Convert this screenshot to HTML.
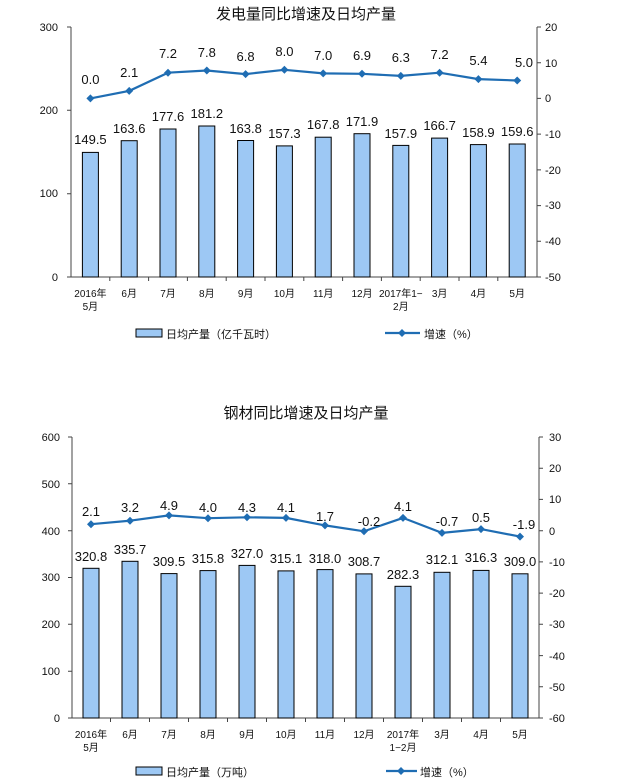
<!DOCTYPE html>
<html><head><meta charset="utf-8"><style>
html,body{margin:0;padding:0;background:#fff;width:623px;height:780px;overflow:hidden}
svg{display:block}
text{font-family:"Liberation Sans","Noto Sans CJK SC",sans-serif;fill:#111}
.t{font-size:11px}
.v{font-size:13px;text-anchor:middle}
.c{font-size:10px;text-anchor:middle}
.ti{font-size:15px;text-anchor:middle}
.bar{fill:#9dc8f4;stroke:#000;stroke-width:1}
.ln{fill:none;stroke:#1f6db3;stroke-width:2.2}
.ax{stroke:#444;stroke-width:1;fill:none}
</style></head><body>
<svg width="623" height="780" viewBox="0 0 623 780">
<!-- Chart 1 -->
<text class="ti" x="306" y="19">发电量同比增速及日均产量</text>
<path class="ax" d="M71 27V277H537V27 M67 27H71 M67 110.3H71 M67 193.7H71 M67 277H71"/>
<path class="ax" d="M537 27H541 M537 62.7H541 M537 98.4H541 M537 134.1H541 M537 169.9H541 M537 205.6H541 M537 241.3H541 M537 277H541"/>
<path class="ax" d="M109.8 277v4 M148.6 277v4 M187.4 277v4 M226.2 277v4 M265 277v4 M303.8 277v4 M342.6 277v4 M381.4 277v4 M420.2 277v4 M459 277v4 M497.8 277v4"/>
<g class="t" text-anchor="end"><text x="58" y="31">300</text><text x="58" y="114">200</text><text x="58" y="197">100</text><text x="58" y="281">0</text></g>
<g class="t"><text x="545" y="31">20</text><text x="545" y="67">10</text><text x="545" y="102">0</text><text x="545" y="138">-10</text><text x="545" y="174">-20</text><text x="545" y="209">-30</text><text x="545" y="245">-40</text><text x="545" y="281">-50</text></g>
<g>
<rect class="bar" x="82.4" y="152.4" width="16" height="124.6"/>
<rect class="bar" x="121.2" y="140.7" width="16" height="136.3"/>
<rect class="bar" x="160" y="129" width="16" height="148"/>
<rect class="bar" x="198.8" y="126" width="16" height="151"/>
<rect class="bar" x="237.6" y="140.5" width="16" height="136.5"/>
<rect class="bar" x="276.4" y="145.9" width="16" height="131.1"/>
<rect class="bar" x="315.2" y="137.2" width="16" height="139.8"/>
<rect class="bar" x="354" y="133.7" width="16" height="143.3"/>
<rect class="bar" x="392.8" y="145.4" width="16" height="131.6"/>
<rect class="bar" x="431.6" y="138.1" width="16" height="138.9"/>
<rect class="bar" x="470.4" y="144.6" width="16" height="132.4"/>
<rect class="bar" x="509.2" y="144" width="16" height="133"/>
</g>
<g class="v">
<text x="90.4" y="144">149.5</text><text x="129.2" y="133">163.6</text><text x="168" y="121">177.6</text><text x="206.8" y="118">181.2</text>
<text x="245.6" y="133">163.8</text><text x="284.4" y="138">157.3</text><text x="323.2" y="129">167.8</text><text x="362" y="126">171.9</text>
<text x="400.8" y="138">157.9</text><text x="439.6" y="130">166.7</text><text x="478.4" y="137">158.9</text><text x="517.2" y="136">159.6</text>
</g>
<polyline class="ln" points="90.4,98.4 129.2,90.9 168,72.7 206.8,70.5 245.6,74.1 284.4,69.8 323.2,73.4 362,73.8 400.8,75.9 439.6,72.7 478.4,79.1 517.2,80.5"/>
<g fill="#1f6db3">
<path d="M90.4 94.4l4 4-4 4-4-4z"/><path d="M129.2 86.9l4 4-4 4-4-4z"/><path d="M168 68.7l4 4-4 4-4-4z"/><path d="M206.8 66.5l4 4-4 4-4-4z"/><path d="M245.6 70.1l4 4-4 4-4-4z"/><path d="M284.4 65.8l4 4-4 4-4-4z"/><path d="M323.2 69.4l4 4-4 4-4-4z"/><path d="M362 69.8l4 4-4 4-4-4z"/><path d="M400.8 71.9l4 4-4 4-4-4z"/><path d="M439.6 68.7l4 4-4 4-4-4z"/><path d="M478.4 75.1l4 4-4 4-4-4z"/><path d="M517.2 76.5l4 4-4 4-4-4z"/>
</g>
<g class="v">
<text x="90.4" y="84">0.0</text><text x="129.2" y="77">2.1</text><text x="168" y="58">7.2</text><text x="206.8" y="57">7.8</text>
<text x="245.6" y="61">6.8</text><text x="284.4" y="56">8.0</text><text x="323.2" y="60">7.0</text><text x="362" y="60">6.9</text>
<text x="400.8" y="62">6.3</text><text x="439.6" y="59">7.2</text><text x="478.4" y="65">5.4</text><text x="524" y="67">5.0</text>
</g>
<g class="c">
<text x="90.4" y="297">2016年</text><text x="90.4" y="310">5月</text><text x="129.2" y="297">6月</text><text x="168" y="297">7月</text><text x="206.8" y="297">8月</text><text x="245.6" y="297">9月</text><text x="284.4" y="297">10月</text><text x="323.2" y="297">11月</text><text x="362" y="297">12月</text><text x="400.8" y="297">2017年1−</text><text x="400.8" y="310">2月</text><text x="439.6" y="297">3月</text><text x="478.4" y="297">4月</text><text x="517.2" y="297">5月</text>
</g>
<rect class="bar" x="136" y="329" width="26" height="8"/>
<text x="166" y="338" style="font-size:11px">日均产量（亿千瓦时）</text>
<path class="ln" d="M385 333H420"/><path d="M402 329l4 4-4 4-4-4z" fill="#1f6db3"/>
<text x="424" y="338" style="font-size:11px">增速（%）</text>

<!-- Chart 2 -->
<text class="ti" x="306" y="418">钢材同比增速及日均产量</text>
<path class="ax" d="M72 437V718H539V437 M68 437H72 M68 483.8H72 M68 530.7H72 M68 577.5H72 M68 624.3H72 M68 671.2H72 M68 718H72"/>
<path class="ax" d="M539 437H543 M539 468.2H543 M539 499.4H543 M539 530.7H543 M539 561.9H543 M539 593.1H543 M539 624.3H543 M539 655.6H543 M539 686.8H543 M539 718H543"/>
<path class="ax" d="M110.5 718v4 M149.5 718v4 M188.5 718v4 M227.5 718v4 M266.5 718v4 M305.5 718v4 M344.5 718v4 M383.5 718v4 M422.5 718v4 M461.5 718v4 M500.5 718v4"/>
<g class="t" text-anchor="end"><text x="60" y="441">600</text><text x="60" y="488">500</text><text x="60" y="535">400</text><text x="60" y="581">300</text><text x="60" y="628">200</text><text x="60" y="675">100</text><text x="60" y="722">0</text></g>
<g class="t"><text x="549" y="441">30</text><text x="549" y="472">20</text><text x="549" y="503">10</text><text x="549" y="535">0</text><text x="549" y="566">-10</text><text x="549" y="597">-20</text><text x="549" y="628">-30</text><text x="549" y="660">-40</text><text x="549" y="691">-50</text><text x="549" y="722">-60</text></g>
<g>
<rect class="bar" x="83" y="568.3" width="16" height="149.7"/>
<rect class="bar" x="122" y="561.3" width="16" height="156.7"/>
<rect class="bar" x="161" y="573.6" width="16" height="144.4"/>
<rect class="bar" x="200" y="570.6" width="16" height="147.4"/>
<rect class="bar" x="239" y="565.4" width="16" height="152.6"/>
<rect class="bar" x="278" y="570.9" width="16" height="147.1"/>
<rect class="bar" x="317" y="569.6" width="16" height="148.4"/>
<rect class="bar" x="356" y="573.9" width="16" height="144.1"/>
<rect class="bar" x="395" y="586.3" width="16" height="131.7"/>
<rect class="bar" x="434" y="572.3" width="16" height="145.7"/>
<rect class="bar" x="473" y="570.4" width="16" height="147.6"/>
<rect class="bar" x="512" y="573.8" width="16" height="144.2"/>
</g>
<g class="v">
<text x="91" y="561">320.8</text><text x="130" y="554">335.7</text><text x="169" y="566">309.5</text><text x="208" y="563">315.8</text>
<text x="247" y="558">327.0</text><text x="286" y="563">315.1</text><text x="325" y="563">318.0</text><text x="364" y="566">308.7</text>
<text x="403" y="579">282.3</text><text x="442" y="564">312.1</text><text x="481" y="562">316.3</text><text x="520" y="566">309.0</text>
</g>
<polyline class="ln" points="91,524.2 130,520.7 169,515.4 208,518.2 247,517.3 286,517.9 325,525.4 364,531.3 403,517.9 442,532.9 481,529.1 520,536.6"/>
<g fill="#1f6db3">
<path d="M91 520.2l4 4-4 4-4-4z"/><path d="M130 516.7l4 4-4 4-4-4z"/><path d="M169 511.4l4 4-4 4-4-4z"/><path d="M208 514.2l4 4-4 4-4-4z"/><path d="M247 513.3l4 4-4 4-4-4z"/><path d="M286 513.9l4 4-4 4-4-4z"/><path d="M325 521.4l4 4-4 4-4-4z"/><path d="M364 527.3l4 4-4 4-4-4z"/><path d="M403 513.9l4 4-4 4-4-4z"/><path d="M442 528.9l4 4-4 4-4-4z"/><path d="M481 525.1l4 4-4 4-4-4z"/><path d="M520 532.6l4 4-4 4-4-4z"/>
</g>
<g class="v">
<text x="91" y="516">2.1</text><text x="130" y="512">3.2</text><text x="169" y="510">4.9</text><text x="208" y="512">4.0</text>
<text x="247" y="512">4.3</text><text x="286" y="512">4.1</text><text x="325" y="521">1.7</text><text x="369" y="526">-0.2</text>
<text x="403" y="511">4.1</text><text x="447" y="526">-0.7</text><text x="481" y="522">0.5</text><text x="524" y="529">-1.9</text>
</g>
<g class="c">
<text x="91" y="738">2016年</text><text x="91" y="751">5月</text><text x="130" y="738">6月</text><text x="169" y="738">7月</text><text x="208" y="738">8月</text><text x="247" y="738">9月</text><text x="286" y="738">10月</text><text x="325" y="738">11月</text><text x="364" y="738">12月</text><text x="403" y="738">2017年</text><text x="403" y="751">1−2月</text><text x="442" y="738">3月</text><text x="481" y="738">4月</text><text x="520" y="738">5月</text>
</g>
<rect class="bar" x="136" y="767" width="26" height="8"/>
<text x="166" y="776" style="font-size:11px">日均产量（万吨）</text>
<path class="ln" d="M386 771H417"/><path d="M401 767l4 4-4 4-4-4z" fill="#1f6db3"/>
<text x="420" y="776" style="font-size:11px">增速（%）</text>
</svg>
</body></html>
